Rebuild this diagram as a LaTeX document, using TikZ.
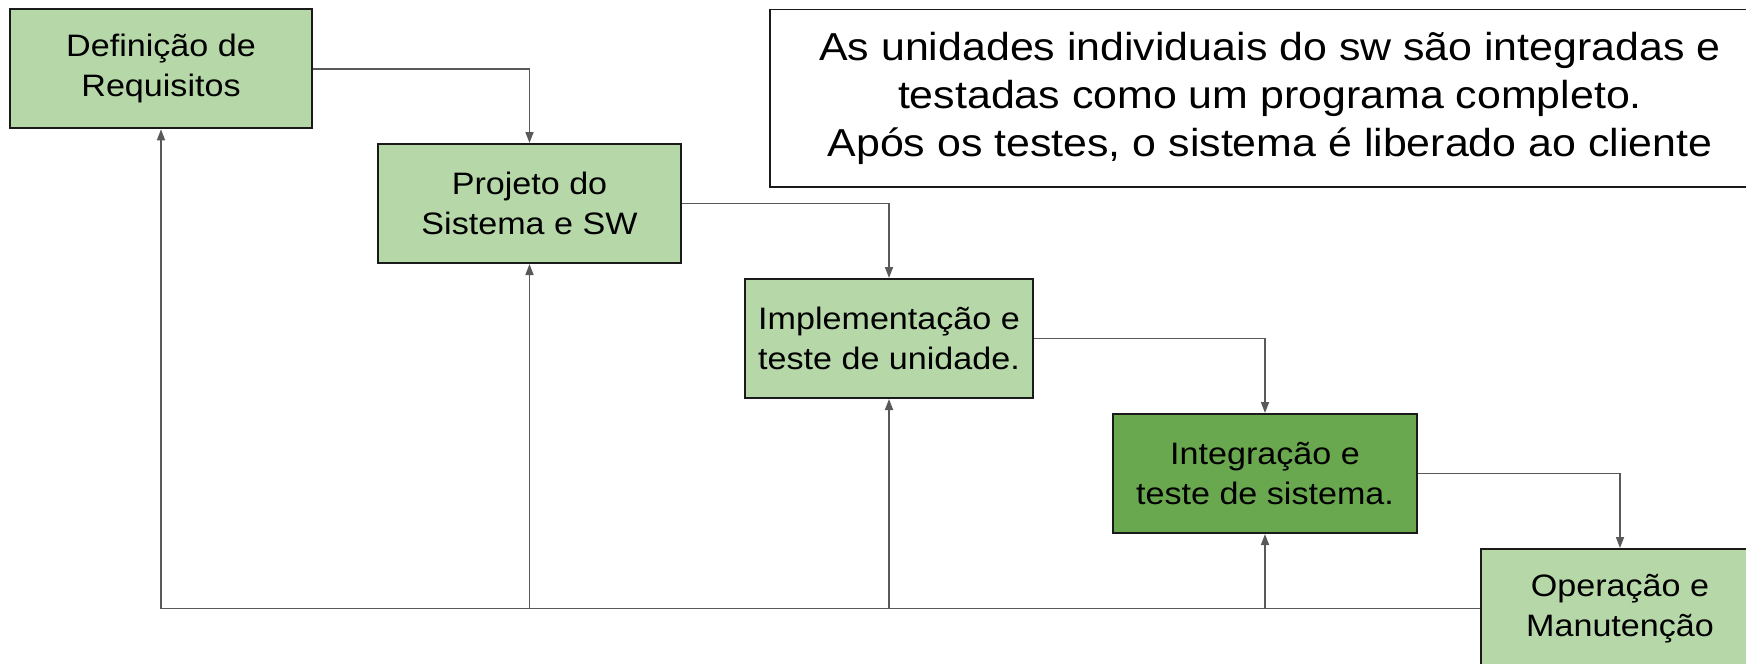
\documentclass[tikz,border=0pt]{standalone}
\usepackage{fontspec}
\setmainfont{Liberation Sans}[FakeStretch=1.1]
\usetikzlibrary{arrows.meta}

\definecolor{stageLight}{HTML}{B6D7A8}
\definecolor{stageDark}{HTML}{6AA84F}
\definecolor{edgeGray}{HTML}{595959}
\definecolor{frameDark}{HTML}{1A1A1A}

\tikzset{
  stage/.style={draw=frameDark, line width=2pt, fill=stageLight,
    minimum height=119pt, inner sep=0pt, align=center,
    font=\fontsize{31}{40}\selectfont},
  flow/.style={draw=edgeGray, line width=1.6pt,
    -{Triangle[length=11pt,width=8pt]}},
  plain/.style={draw=edgeGray, line width=1.8pt},
  note/.style={draw=frameDark, line width=1.8pt, fill=white,
    inner sep=0pt, align=center,
    font=\fontsize{39}{48}\selectfont}
}

\begin{document}
\begin{tikzpicture}[x=1pt, y=-1pt]
  \useasboundingbox (0,0) rectangle (1746,664);

  % waterfall stages
  \node[stage, minimum width=302pt] (req)  at (161,68.8)   {Definição de\\Requisitos};
  \node[stage, minimum width=303pt] (proj) at (529.5,203.5) {Projeto do\\Sistema e SW};
  \node[stage, minimum width=288pt] (impl) at (889,338.5)  {Implementação e\\teste de unidade.};
  \node[stage, minimum width=304pt, fill=stageDark] (integ) at (1265,473.5) {Integração e\\teste de sistema.};
  \node[stage, minimum width=278pt] (oper) at (1620,608.5) {Operação e\\Manutenção};

  % explanatory note
  \node[note, minimum width=1000pt, minimum height=177.5pt] (txt) at (1270,98.2)
    {As unidades individuais do sw são integradas e\\testadas como um programa completo.\\Após os testes, o sistema é liberado ao cliente};

  % forward flow between stages
  \draw[flow] (req.east)   -| (proj.north);
  \draw[flow] (proj.east)  -| (impl.north);
  \draw[flow] (impl.east)  -| (integ.north);
  \draw[flow] (integ.east) -| (oper.north);

  % feedback path back to earlier stages
  \draw[plain] (oper.west) -- (oper.west -| req.south);
  \draw[flow] (oper.west -| req.south) -- (req.south);
  \draw[flow] (oper.west -| proj.south) -- (proj.south);
  \draw[flow] (oper.west -| impl.south) -- (impl.south);
  \draw[flow] (oper.west -| integ.south) -- (integ.south);
\end{tikzpicture}
\end{document}
